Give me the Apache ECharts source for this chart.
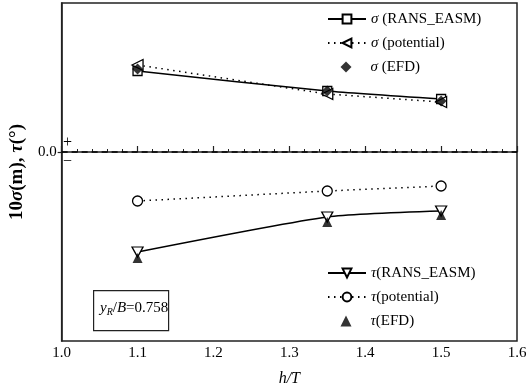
<!DOCTYPE html>
<html><head><meta charset="utf-8">
<script src="https://cdn.jsdelivr.net/npm/echarts@6/dist/echarts.min.js"></script>
<style>html,body{margin:0;padding:0;background:#fff}#c{width:530px;height:392px}</style>
</head><body><div id="c"></div>
<script>
const xTicks = [1.0, 1.1, 1.2, 1.3, 1.4, 1.5, 1.6];
const hT = [1.1, 1.35, 1.5];
const sigmaRans = [0.81, 0.61, 0.53];
const sigmaPot = [0.87, 0.58, 0.50];
const sigmaEfd = [0.83, 0.61, 0.51];
const tauRans = [-1.00, -0.65, -0.59];
const tauPot = [-0.49, -0.39, -0.34];
const tauEfd = [-1.06, -0.70, -0.63];

const FONT = '"Liberation Serif", "DejaVu Serif", serif';
const pair = (ys) => hT.map((x, i) => [x, ys[i]]);
const openItem = {color: '#fff', borderColor: '#000', borderWidth: 1.3};
const solid = {color: '#000', width: 1.5, type: 'solid'};
const dotted = {color: '#000', width: 1.5, type: [1.5, 4.5]};
const leftTri = 'path://M0,5 L10,0 L10,10 Z';
const downTri = 'path://M0,0 L10,0 L5,9 Z';

const labels = {
  sR: '{g|σ} (RANS_EASM)', sP: '{g|σ} (potential)', sE: '{g|σ} (EFD)',
  tR: '{g|τ}(RANS_EASM)', tP: '{g|τ}(potential)', tE: '{g|τ}(EFD)'
};
const legendText = {fontFamily: FONT, fontSize: 15, color: '#000', lineHeight: 16,
  rich: {g: {fontFamily: FONT, fontStyle: 'italic', fontSize: 15, color: '#000'}}};
const legendTextShift = Object.assign({}, legendText, {padding: [0, 0, 0, 14]});
const lineLegend = (names, top) => ({data: names, orient: 'vertical', left: 322, top: top,
  itemWidth: 38, itemHeight: 11, itemGap: 8, formatter: n => labels[n], textStyle: legendText});
const dotLegend = (names, top) => ({data: names, orient: 'vertical', left: 335.5, top: top,
  itemWidth: 11, itemHeight: 11, itemGap: 8, formatter: n => labels[n], textStyle: legendTextShift});

const chart = echarts.init(document.getElementById('c'), null, {renderer: 'canvas'});
chart.setOption({
  animation: false,
  backgroundColor: '#fff',
  grid: {left: 58, right: 13, top: 3, bottom: 51, show: true, borderColor: '#222', borderWidth: 1.5, backgroundColor: 'transparent'},
  xAxis: {
    type: 'value', min: 1.0, max: 1.6, interval: 0.1,
    name: 'h/T', nameLocation: 'middle', nameGap: 30,
    nameTextStyle: {fontFamily: FONT, fontStyle: 'italic', fontSize: 16, color: '#000'},
    axisLine: {lineStyle: {color: '#222', width: 1.5}},
    axisTick: {inside: true, length: 6, lineStyle: {color: '#222', width: 1.2}},
    minorTick: {show: true, splitNumber: 5, length: 3, lineStyle: {color: '#222', width: 1}},
    splitLine: {show: false},
    axisLabel: {fontFamily: FONT, fontSize: 15, color: '#000', margin: 5, formatter: v => v.toFixed(1)}
  },
  yAxis: {
    type: 'value', min: -1.89, max: 1.49,
    name: '{a|10}{g|σ}{a|(m), }{g|τ}{a|(°)}', nameLocation: 'middle', nameGap: 31,
    nameTextStyle: {rich: {
      a: {fontFamily: FONT, fontSize: 19, fontWeight: 'bold', color: '#000'},
      g: {fontFamily: FONT, fontSize: 19, fontStyle: 'italic', fontWeight: 'bold', color: '#000'}}},
    axisLine: {show: true, lineStyle: {color: '#222', width: 1.5}},
    axisTick: {show: true, customValues: [0], length: 4, lineStyle: {color: '#222', width: 1.2}},
    splitLine: {show: false},
    axisLabel: {customValues: [0], fontFamily: FONT, fontSize: 15, color: '#000', margin: 5, formatter: () => '0.0'}
  },
  legend: [
    lineLegend(['sR', 'sP'], 6),
    dotLegend(['sE'], 54),
    lineLegend(['tR', 'tP'], 260),
    dotLegend(['tE'], 308)
  ],
  series: [
    {name: 'sR', type: 'line', data: pair(sigmaRans), smooth: 0.2, symbol: 'rect', symbolSize: 9,
     itemStyle: openItem, lineStyle: solid, z: 3,
     markLine: {silent: true, symbol: 'none', label: {show: false},
       lineStyle: {color: '#000', width: 1.5, type: [6, 4]}, data: [{yAxis: 0}]}},
    {name: 'sP', type: 'line', data: pair(sigmaPot), symbol: leftTri, symbolSize: [11, 11],
     itemStyle: openItem, lineStyle: dotted, z: 3},
    {name: 'sE', type: 'scatter', data: pair(sigmaEfd), symbol: 'diamond', symbolSize: 11,
     itemStyle: {color: '#000'}, z: 5},
    {name: 'tR', type: 'line', data: pair(tauRans), smooth: 0.2, symbol: downTri, symbolSize: [11, 10],
     itemStyle: openItem, lineStyle: solid, z: 3},
    {name: 'tP', type: 'line', data: pair(tauPot), symbol: 'circle', symbolSize: 10,
     itemStyle: openItem, lineStyle: dotted, z: 3},
    {name: 'tE', type: 'scatter', data: pair(tauEfd), symbol: 'triangle', symbolSize: 10,
     itemStyle: {color: '#000'}, z: 5}
  ],
  graphic: [
    {type: 'text', left: 63, top: 135, style: {text: '+', font: '16px ' + FONT, fill: '#000'}},
    {type: 'text', left: 63, top: 154, style: {text: '−', font: '16px ' + FONT, fill: '#000'}},
    {type: 'rect', left: 93, top: 290, shape: {width: 75, height: 40},
     style: {fill: '#fff', stroke: '#222', lineWidth: 1.2}},
    {type: 'text', left: 100, top: 301, style: {
      text: '{i|y}{s|R}{n|/}{i|B}{n|=0.758}',
      rich: {
        i: {fontFamily: FONT, fontStyle: 'italic', fontSize: 15, fill: '#000'},
        s: {fontFamily: FONT, fontStyle: 'italic', fontSize: 10, fill: '#000', verticalAlign: 'bottom', padding: [8, 0, 0, 0]},
        n: {fontFamily: FONT, fontSize: 15, fill: '#000'}
      }}}
  ]
});
</script></body></html>
